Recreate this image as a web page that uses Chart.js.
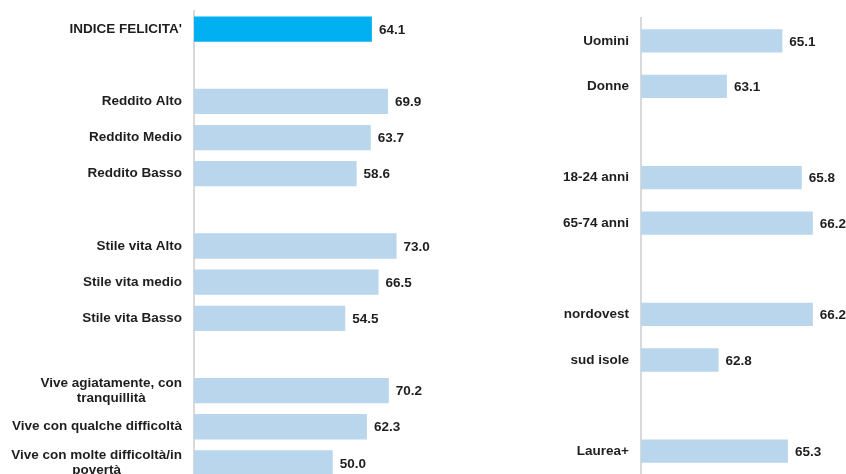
<!DOCTYPE html>
<html>
<head>
<meta charset="utf-8">
<script src="https://cdn.jsdelivr.net/npm/chart.js@4/dist/chart.umd.min.js"></script>
<style>
  html, body { margin: 0; padding: 0; background: #fff; overflow: hidden; width: 846px; height: 474px; }
  canvas { position: absolute; left: 0; top: 0; }
</style>
</head>
<body>
<canvas id="leftChart"></canvas>
<canvas id="rightChart"></canvas>
<script>
// left panel: blank slots are the gaps between groups
var leftLabels = ["INDICE FELICITA'", "", "Reddito Alto", "Reddito Medio", "Reddito Basso", "",
    "Stile vita Alto", "Stile vita medio", "Stile vita Basso", "",
    ["Vive agiatamente, con", "tranquillità"], "Vive con qualche difficoltà", ["Vive con molte difficoltà/in", "povertà"]];
var leftValues = [64.1, null, 69.9, 63.7, 58.6, null, 73.0, 66.5, 54.5, null, 70.2, 62.3, 50.0];

// right panel
var rightLabels = ["Uomini", "Donne", "", "18-24 anni", "65-74 anni", "", "nordovest", "sud isole", "", "Laurea+"];
var rightValues = [65.1, 63.1, null, 65.8, 66.2, null, 66.2, 62.8, null, 65.3];

var highlight = "#00B0F0";
var barBlue = "#B9D6EC";
var fontSpec = "bold 13.5px 'Liberation Sans', Arial, sans-serif";
var textColor = "#1e1e1e";

// draws category names left of the axis and values at the bar ends
var labelPlugin = {
    id: 'labelPlugin',
    afterDatasetsDraw: function (chart) {
        var ctx = chart.ctx;
        var yScale = chart.scales.y;
        var labels = chart.data.labels;
        var xRight = chart.chartArea.left - 12;
        ctx.save();
        ctx.font = fontSpec;
        ctx.fillStyle = textColor;
        ctx.textBaseline = 'middle';
        for (var i = 0; i < labels.length; i++) {
            var lab = labels[i];
            if (!lab) continue;
            var y = yScale.getPixelForValue(i);
            if (Array.isArray(lab)) {
                var widest = 0;
                lab.forEach(function (l) { widest = Math.max(widest, ctx.measureText(l).width); });
                ctx.textAlign = 'center';
                for (var k = 0; k < lab.length; k++) {
                    ctx.fillText(lab[k], xRight - widest / 2, y + (k - (lab.length - 1) / 2) * 15.5);
                }
            } else {
                ctx.textAlign = 'right';
                ctx.fillText(lab, xRight, y);
            }
        }
        var meta = chart.getDatasetMeta(0);
        var vals = chart.data.datasets[0].data;
        ctx.textAlign = 'left';
        meta.data.forEach(function (bar, i) {
            if (vals[i] == null) return;
            ctx.fillText(vals[i].toFixed(1), bar.x + 7, bar.y + 1);
        });
        ctx.restore();
    }
};

function makeChart(id, labels, values, colors, xMin, xMax, axisWidth, pad, barPct) {
    var el = document.getElementById(id);
    el.width = 846;
    el.height = 490;
    return new Chart(el, {
        type: 'bar',
        data: {
            labels: labels,
            datasets: [{
                data: values,
                backgroundColor: colors,
                borderWidth: 0,
                categoryPercentage: 1,
                barPercentage: barPct
            }]
        },
        options: {
            indexAxis: 'y',
            responsive: false,
            animation: false,
            layout: { padding: pad },
            plugins: { legend: { display: false }, tooltip: { enabled: false } },
            scales: {
                x: { display: false, min: xMin, max: xMax },
                y: {
                    grid: { display: false, drawTicks: false },
                    border: { color: '#D9D9D9', width: 2 },
                    ticks: { display: false },
                    afterFit: function (scale) { scale.width = axisWidth; }
                }
            }
        },
        plugins: [labelPlugin]
    });
}

var leftColors = leftValues.map(function (v, i) { return i === 0 ? highlight : barBlue; });
var rightColors = rightValues.map(function () { return barBlue; });

makeChart('leftChart', leftLabels, leftValues, leftColors, 0, 80, 194,
    { top: 11, bottom: 9, left: 0, right: 430 }, 0.7);
makeChart('rightChart', rightLabels, rightValues, rightColors, 60, 67, 641,
    { top: 18, bottom: 16, left: 0, right: 11 }, 0.51);
</script>
</body>
</html>
